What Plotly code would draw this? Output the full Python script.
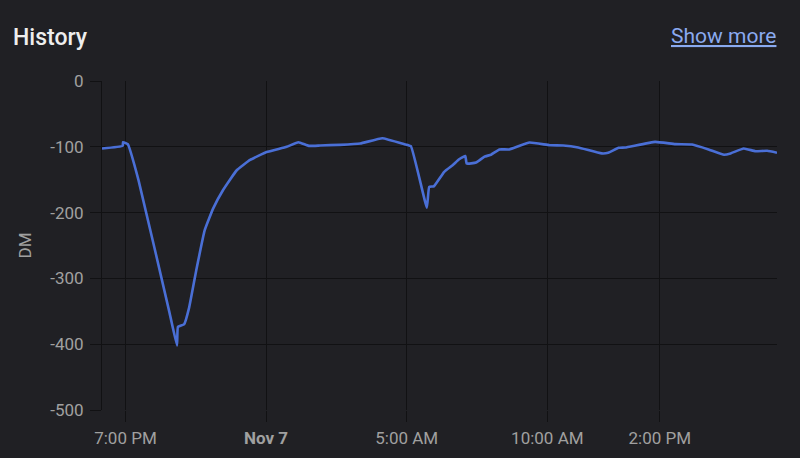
import plotly.graph_objects as go

times = [
    "2023-11-06 18:10", "2023-11-06 18:54", "2023-11-06 18:55", "2023-11-06 19:05",
    "2023-11-06 19:28", "2023-11-06 20:34", "2023-11-06 20:50", "2023-11-06 20:52",
    "2023-11-06 21:05", "2023-11-06 21:16", "2023-11-06 21:31", "2023-11-06 21:49",
    "2023-11-06 22:07", "2023-11-06 22:28", "2023-11-06 22:57", "2023-11-06 23:26",
    "2023-11-07 00:01", "2023-11-07 00:44", "2023-11-07 01:09", "2023-11-07 01:31",
    "2023-11-07 01:56", "2023-11-07 02:38", "2023-11-07 03:21", "2023-11-07 04:08",
    "2023-11-07 04:55", "2023-11-07 05:09", "2023-11-07 05:43", "2023-11-07 05:48",
    "2023-11-07 05:58", "2023-11-07 06:20", "2023-11-07 06:38", "2023-11-07 06:52",
    "2023-11-07 07:05", "2023-11-07 07:08", "2023-11-07 07:28", "2023-11-07 07:46",
    "2023-11-07 08:00", "2023-11-07 08:18", "2023-11-07 08:39", "2023-11-07 09:22",
    "2023-11-07 10:05", "2023-11-07 10:34", "2023-11-07 11:06", "2023-11-07 11:56",
    "2023-11-07 12:10", "2023-11-07 12:32", "2023-11-07 12:46", "2023-11-07 13:50",
    "2023-11-07 14:33", "2023-11-07 15:09", "2023-11-07 15:44", "2023-11-07 16:17",
    "2023-11-07 16:31", "2023-11-07 16:59", "2023-11-07 17:24", "2023-11-07 17:49",
    "2023-11-07 18:10",
]
values = [
    -102.6, -98.6, -93, -96,
    -151, -352, -402, -373.5,
    -370, -344, -288, -227,
    -194, -166, -136, -120,
    -108, -100, -93, -98.6,
    -98, -97, -95, -87,
    -96, -99, -192.5, -161,
    -160, -138, -128, -119,
    -114, -125.5, -124, -115,
    -112, -104, -104, -93.5,
    -97.6, -98, -101, -110,
    -109, -101.6, -101, -92.5,
    -96, -96.5, -104, -112,
    -110, -102.6, -106.7, -106,
    -109,
]

x_tick_vals = ["2023-11-06 19:00", "2023-11-07 00:00", "2023-11-07 05:00",
               "2023-11-07 10:00", "2023-11-07 14:00"]
x_tick_text = ["7:00 PM", "<b>Nov 7</b>", "5:00 AM", "10:00 AM", "2:00 PM"]
y_tick_vals = [0, -100, -200, -300, -400, -500]
y_tick_text = ["0", "-100", "-200", "-300", "-400", "-500"]

bg = "#202024"
grid = "#111113"
fig = go.Figure()
fig.add_trace(go.Scatter(
    x=times, y=values, mode="lines",
    line=dict(color="#4a6fd6", width=2.6, shape="spline", smoothing=0.3),
    hoverinfo="skip",
))

fig.update_layout(
    width=800, height=458,
    paper_bgcolor=bg, plot_bgcolor=bg,
    margin=dict(l=102, r=23, t=81, b=48),
    showlegend=False,
    font=dict(family="Roboto", color="#a0a0a0", size=17),
    xaxis=dict(
        range=["2023-11-06 18:10", "2023-11-07 18:10"],
        tickvals=x_tick_vals, ticktext=x_tick_text,
        showgrid=True, gridcolor=grid, gridwidth=1,
        ticks="outside", ticklen=11, tickcolor=grid,
        zeroline=False, showline=False, automargin=False,
        ticklabelstandoff=2,
        tickfont=dict(size=17, color="#a0a0a0"),
    ),
    yaxis=dict(
        range=[-500, 0],
        tickvals=y_tick_vals, ticktext=y_tick_text,
        showgrid=True, gridcolor=grid, gridwidth=1,
        ticks="outside", ticklen=11, tickcolor=grid,
        zeroline=False, showline=True, linecolor=grid, linewidth=1,
        automargin=False,
        ticklabelstandoff=3,
        tickfont=dict(size=17, color="#a0a0a0"),
        title=dict(text="DM", font=dict(size=17, color="#a0a0a0"), standoff=14),
    ),
    annotations=[
        dict(text="History", xref="paper", yref="paper",
             x=(11 - 102) / 675, y=(410 - 37) / 329,
             xanchor="left", yanchor="middle", showarrow=False,
             font=dict(family="Roboto", size=23, weight=500, color="#eeeeee")),
        dict(text="<u>Show more</u>", xref="paper", yref="paper",
             x=(778 - 102) / 675, y=(410 - 36) / 329,
             xanchor="right", yanchor="middle", showarrow=False,
             font=dict(family="Roboto", size=21, color="#8aaaf0")),
    ],
)

fig.write_html("out.html", config={"displayModeBar": False},
               post_script="document.body.style.margin='0';document.body.style.background='#202024';")
